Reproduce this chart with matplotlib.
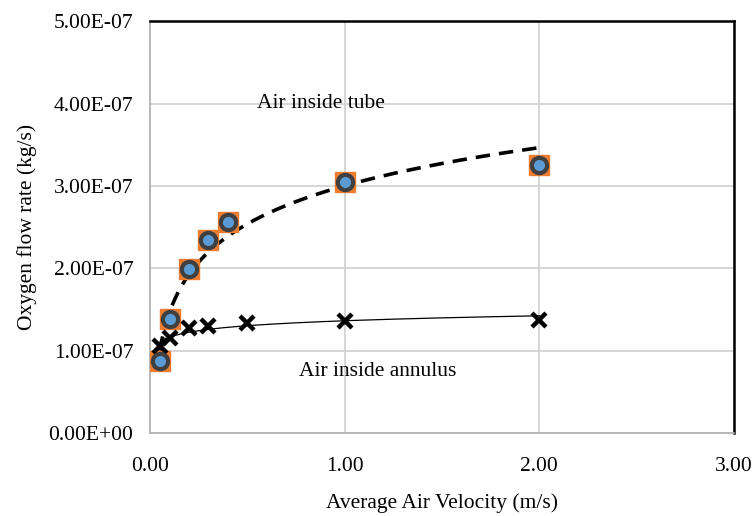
import numpy as np
import matplotlib.pyplot as plt
from matplotlib.ticker import FuncFormatter

# air velocity (m/s) and oxygen flow rate (kg/s)
tube_velocity = [0.05, 0.1, 0.2, 0.3, 0.4, 1.0, 2.0]
tube_flow = [0.87e-7, 1.38e-7, 1.99e-7, 2.34e-7, 2.56e-7, 3.05e-7, 3.25e-7]

annulus_velocity = [0.05, 0.1, 0.2, 0.3, 0.5, 1.0, 2.0]
annulus_flow = [1.05e-7, 1.15e-7, 1.27e-7, 1.30e-7, 1.33e-7, 1.36e-7, 1.37e-7]

x_ticks = [0.0, 1.0, 2.0, 3.0]
y_ticks = [0.0, 1e-7, 2e-7, 3e-7, 4e-7, 5e-7]

plt.rcParams['font.family'] = ['Liberation Serif', 'DejaVu Serif']

fig = plt.figure(figsize=(7.54, 5.16), dpi=100)
ax = fig.add_axes([0.199, 0.161, 0.7745, 0.798])


def log_trend(x, y):
    """Excel style logarithmic trendline over the data range."""
    a, b = np.polyfit(np.log(x), y, 1)
    xs = np.linspace(min(x), max(x), 200)
    return xs, a * np.log(xs) + b


xs, ys = log_trend(tube_velocity, tube_flow)
ax.plot(xs, ys, color='black', lw=2.6, ls=(0, (4, 2.5)), zorder=3)
xs, ys = log_trend(annulus_velocity, annulus_flow)
ax.plot(xs, ys, color='black', lw=0.9, zorder=3)

# tube: orange square with dark ringed blue circle
ax.plot(tube_velocity, tube_flow, 's', ms=14, color='#ED7D31', mec='#ED7D31', zorder=4)
ax.plot(tube_velocity, tube_flow, 'o', ms=11, mfc='#5B9BD5', mec='#404040', mew=3, zorder=5)

# annulus: black crosses
ax.plot(annulus_velocity, annulus_flow, 'x', ms=10.5, mew=3.2, color='black', zorder=4)

ax.text(0.88, 4.0e-7, 'Air inside tube', fontsize=15.5, ha='center', va='center')
ax.text(1.17, 0.74e-7, 'Air inside annulus', fontsize=15.5, ha='center', va='center')

ax.set_xlim(0, 3)
ax.set_ylim(0, 5e-7)
ax.set_xticks(x_ticks)
ax.set_yticks(y_ticks)
ax.xaxis.set_major_formatter(FuncFormatter(lambda v, p: f'{v:.2f}'))
ax.yaxis.set_major_formatter(FuncFormatter(lambda v, p: f'{v:.2E}'))
ax.tick_params(length=0, labelsize=15.5)
ax.tick_params(axis='y', pad=12)
ax.tick_params(axis='x', pad=17)
ax.grid(True, color='#d0d0d0', lw=1.2)
ax.set_axisbelow(True)

for side in ['left', 'bottom']:
    ax.spines[side].set_color('#b0b0b0')
    ax.spines[side].set_linewidth(1.2)
for side in ['top', 'right']:
    ax.spines[side].set_color('black')
    ax.spines[side].set_linewidth(1.8)

ax.set_xlabel('Average Air Velocity (m/s)', fontsize=15.5, labelpad=13)
ax.set_ylabel('Oxygen flow rate (kg/s)', fontsize=15.5, labelpad=8)

fig.savefig('out.png', dpi=100)
